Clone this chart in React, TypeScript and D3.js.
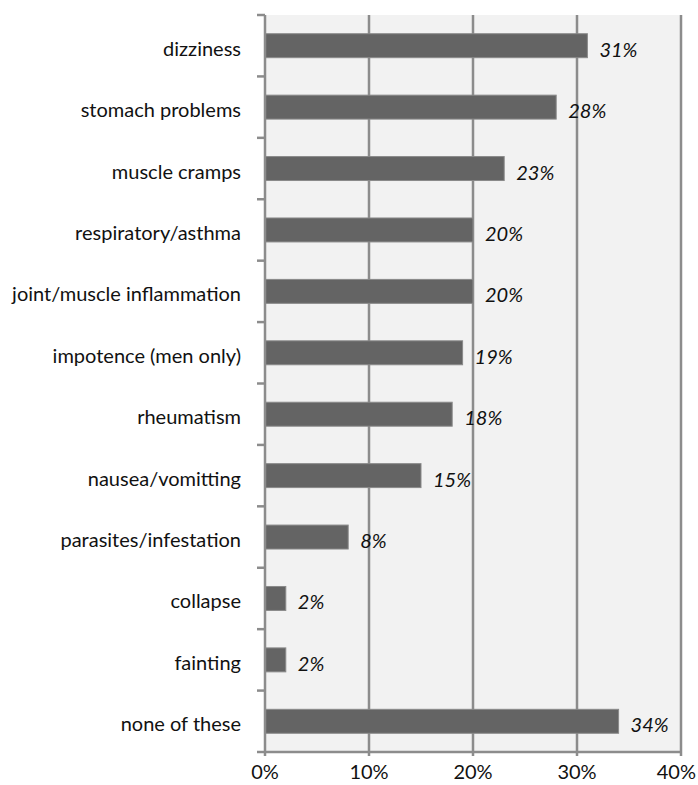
import React from "react";
import * as d3 from "d3";

const categories = [
  "dizziness",
  "stomach problems",
  "muscle cramps",
  "respiratory/asthma",
  "joint/muscle inflammation",
  "impotence (men only)",
  "rheumatism",
  "nausea/vomitting",
  "parasites/infestation",
  "collapse",
  "fainting",
  "none of these",
];
const values = [0.31, 0.28, 0.23, 0.2, 0.2, 0.19, 0.18, 0.15, 0.08, 0.02, 0.02, 0.34];
const xTicks = [0, 0.1, 0.2, 0.3, 0.4];
const xTickLabels = ["0%", "10%", "20%", "30%", "40%"];
const valueLabels = ["31%", "28%", "23%", "20%", "20%", "19%", "18%", "15%", "8%", "2%", "2%", "34%"];

const FONT = "Lato, 'Open Sans', sans-serif";

export default function App() {
  const W = 698;
  const H = 785;
  const left = 265;
  const right = 681;
  const top = 15;
  const bottom = 752;
  const x = d3.scaleLinear().domain([0, 0.4]).range([left, right]);
  const y = d3.scaleBand<string>().domain(categories).range([top, bottom]);
  const bw = y.bandwidth();
  const barH = bw * 0.39;
  const axisColor = "#8c8c8c";
  const boundaries = d3.range(categories.length + 1).map((i) => top + i * bw);

  return (
    <svg
      width={W}
      height={H}
      style={{ position: "absolute", left: 0, top: 0, background: "#ffffff" }}
      fontFamily={FONT}
    >
      <rect x={left} y={top} width={right - left} height={bottom - top} fill="#f2f2f2" />
      {xTicks.slice(1).map((t) => (
        <line key={"g" + t} x1={x(t)} x2={x(t)} y1={top} y2={bottom + 4} stroke={axisColor} strokeWidth={2.5} />
      ))}
      {categories.map((c, i) => {
        const yc = (y(c) as number) + bw / 2;
        return (
          <g key={c}>
            <rect
              x={x(0)}
              y={yc - barH / 2}
              width={x(values[i]) - x(0)}
              height={barH}
              fill="#646464"
              stroke="#8a8a8a"
              strokeWidth={1}
            />
            <text
              x={x(values[i]) + 12}
              y={yc + 3}
              dominantBaseline="central"
              fontSize={20}
              fontStyle="italic"
              fill="#111"
            >
              {valueLabels[i]}
            </text>
            <text x={241} y={yc + 2} dominantBaseline="central" textAnchor="end" fontSize={20} fill="#111">
              {c}
            </text>
          </g>
        );
      })}
      <line x1={left} x2={left} y1={top} y2={bottom + 4} stroke={axisColor} strokeWidth={2.5} />
      {boundaries.map((b, i) => (
        <line key={"t" + i} x1={left - 8} x2={left} y1={b} y2={b} stroke={axisColor} strokeWidth={2.5} />
      ))}
      <line x1={left} x2={right} y1={bottom} y2={bottom} stroke={axisColor} strokeWidth={2.5} />
      {xTicks.map((t, i) => {
        const last = i === xTicks.length - 1;
        return (
          <text
            key={"xl" + t}
            x={last ? W - 2 : x(t)}
            y={779}
            textAnchor={last ? "end" : "middle"}
            fontSize={20}
            fill="#111"
          >
            {xTickLabels[i]}
          </text>
        );
      })}
    </svg>
  );
}
